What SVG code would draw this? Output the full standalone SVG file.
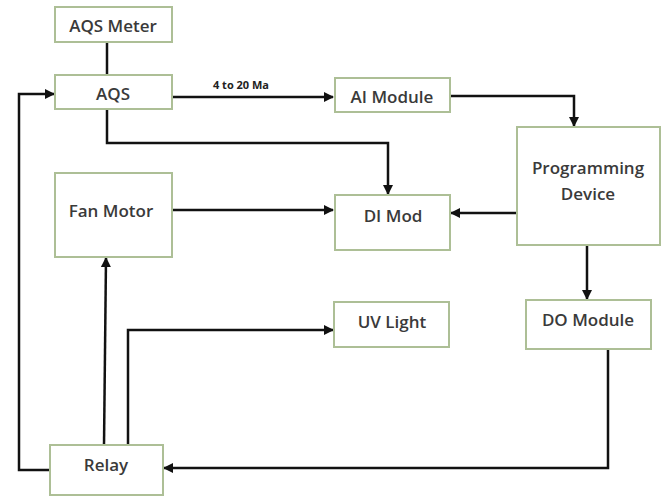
<svg xmlns="http://www.w3.org/2000/svg" width="666" height="499" viewBox="0 0 666 499">
<style>
.box{fill:#fff;stroke:#adbf96;stroke-width:2}
.t{font-family:"Open Sans","Liberation Sans",sans-serif;font-size:17px;font-weight:600;fill:#3a3a3a;text-anchor:middle;dominant-baseline:central}
.lbl{font-family:"Open Sans","Liberation Sans",sans-serif;font-size:11px;font-weight:bold;fill:#222;text-anchor:middle}
.c{fill:none;stroke:#111;stroke-width:2.5}
</style>
<defs>
<marker id="ah" viewBox="0 0 10 10" refX="9" refY="5" markerWidth="4" markerHeight="4" orient="auto" markerUnits="strokeWidth">
<path d="M0,0 L10,5 L0,10 z" fill="#111"/>
</marker>
</defs>
<rect width="666" height="499" fill="#fff"/>
<g id="connectors">
<path class="c" d="M107,42 V75"/>
<path class="c" d="M172,97 H333" marker-end="url(#ah)"/>
<path class="c" d="M450,96 H574 V126" marker-end="url(#ah)"/>
<path class="c" d="M107,109 V143 H388 V194" marker-end="url(#ah)"/>
<path class="c" d="M172,210 H333" marker-end="url(#ah)"/>
<path class="c" d="M517,213 H451" marker-end="url(#ah)"/>
<path class="c" d="M587,245 V299" marker-end="url(#ah)"/>
<path class="c" d="M608,349 V468 H164" marker-end="url(#ah)"/>
<path class="c" d="M50,470 H19 V94 H54" marker-end="url(#ah)"/>
<path class="c" d="M104,445 L106,258" marker-end="url(#ah)"/>
<path class="c" d="M128,445 V330 H333" marker-end="url(#ah)"/>
<text class="lbl" x="241" y="89">4 to 20 Ma</text>
</g>
<g id="aqs-meter"><rect class="box" x="55" y="7" width="117" height="35"/><text class="t" x="113" y="25">AQS Meter</text></g>
<g id="aqs"><rect class="box" x="55" y="75" width="117" height="34"/><text class="t" x="113" y="93">AQS</text></g>
<g id="ai-module"><rect class="box" x="335" y="78" width="115" height="34"/><text class="t" x="392" y="96">AI Module</text></g>
<g id="programming-device"><rect class="box" x="517" y="127" width="143" height="118"/><text class="t" x="588" y="167">Programming</text><text class="t" x="588" y="193">Device</text></g>
<g id="fan-motor"><rect class="box" x="55" y="173" width="117" height="84"/><text class="t" x="111" y="210">Fan Motor</text></g>
<g id="di-mod"><rect class="box" x="335" y="195" width="115" height="55"/><text class="t" x="393" y="215">DI Mod</text></g>
<g id="uv-light"><rect class="box" x="334" y="302" width="115" height="45"/><text class="t" x="392" y="321">UV Light</text></g>
<g id="do-module"><rect class="box" x="526" y="300" width="125" height="49"/><text class="t" x="588" y="319">DO Module</text></g>
<g id="relay"><rect class="box" x="50" y="445" width="113" height="50"/><text class="t" x="106" y="464">Relay</text></g>
</svg>
